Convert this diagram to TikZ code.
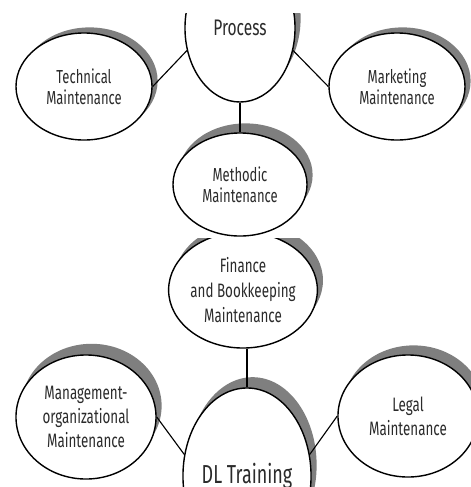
\documentclass[tikz,border=0pt]{standalone}
\usepackage{fontspec}
\setmainfont{Fira Sans}[FakeStretch=0.69]
\usetikzlibrary{shapes.geometric,shadows}
\definecolor{shadowgray}{HTML}{7F7F7F}
\definecolor{textgray}{HTML}{2B2B2B}
\tikzset{bubble/.style={ellipse, draw, fill=white, line width=1pt, inner sep=0pt, align=center, text=textgray, font=\fontsize{13.4}{15}\selectfont, drop shadow={shadow xshift=0.14cm, shadow yshift=#1, opacity=1, fill=shadowgray}}, bubble/.default=0.24cm}
\tikzset{link/.style={line width=0.8pt}}

\begin{document}
\begin{tikzpicture}[x=0.025cm, y=-0.025cm]
    \useasboundingbox (0,0) rectangle (471,487);
    \begin{scope}
        \clip (0,13) rectangle (471,238);
        \node [bubble, minimum width=2.75cm, minimum height=3.7cm, font=\fontsize{16}{18}\selectfont] (proc) at (240,28) {Process};
        \node [bubble=0.14cm, minimum width=3.4cm, minimum height=2.675cm] (tech) at (84,86.5) {Technical\\Maintenance};
        \node [bubble=0.14cm, minimum width=3.4cm, minimum height=2.675cm] (mkt) at (397,86.5) {Marketing\\Maintenance};
        \node [bubble, minimum width=3.35cm, minimum height=2.575cm] (meth) at (240,184.5) {Methodic\\Maintenance};
        \draw [link] (tech.east) -- (proc.203);
        \draw [link] (mkt.west) -- (proc.-23);
        \draw [link] (proc.south) -- (meth.north);
    \end{scope}
    \begin{scope}
        \clip (0,238) rectangle (471,487);
        \node [bubble, minimum width=3.3cm, minimum height=2.9cm, font=\fontsize{13.8}{17.5}\selectfont] (fin) at (243,290) {Finance\\and Bookkeeping\\Maintenance};
        \node [bubble=0.28cm, minimum width=3.5cm, minimum height=3.1cm, font=\fontsize{13.8}{17}\selectfont] (mgmt) at (86,417) {Management-\\organizational\\Maintenance};
        \node [bubble, minimum width=3.5cm, minimum height=3.05cm, font=\fontsize{13.8}{17}\selectfont] (legal) at (408,416) {Legal\\Maintenance};
        \node [bubble=0.27cm, minimum width=2.9cm, minimum height=4.4cm, font=\fontsize{18.5}{21}\selectfont] (dl) at (247,476) {DL Training};
        \draw [link] (dl.north) -- (dl.north |- fin.south);
        \draw [link] (mgmt.east) -- (dl.161);
        \draw [link] (legal.west) -- (dl.19);
    \end{scope}
\end{tikzpicture}
\end{document}
